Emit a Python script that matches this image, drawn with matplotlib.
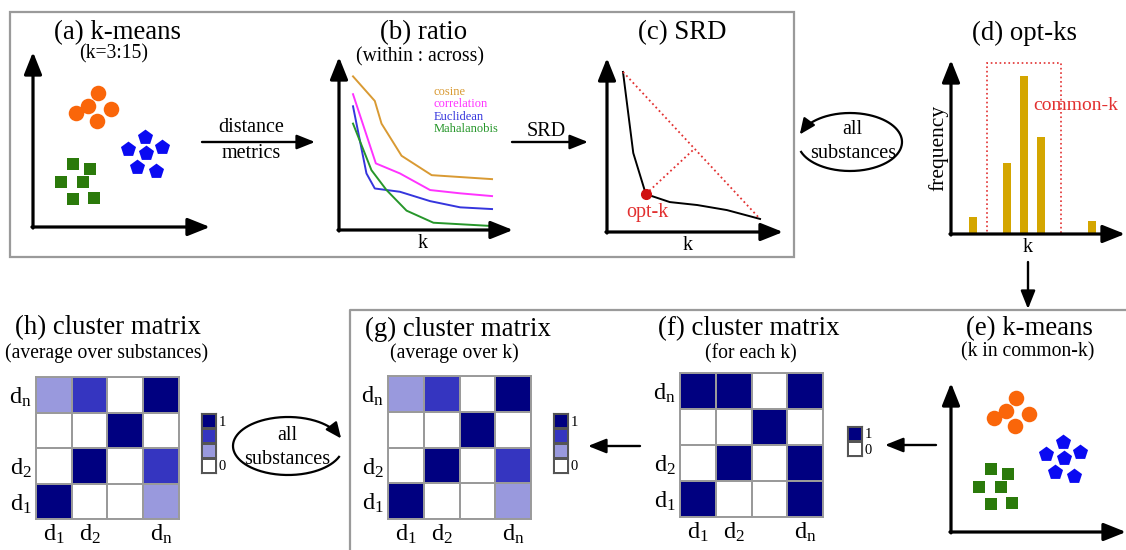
import numpy as np
import matplotlib
matplotlib.use("Agg")
import matplotlib.pyplot as plt
from matplotlib.colors import ListedColormap
from matplotlib.patches import Rectangle

plt.rcParams["font.family"] = ["Liberation Serif", "DejaVu Serif"]
plt.rcParams["mathtext.fontset"] = "custom"
plt.rcParams["mathtext.rm"] = "Liberation Serif"
plt.rcParams["mathtext.it"] = "Liberation Serif:italic"

# ---------------- data ----------------
# (a)/(e) toy k-means clusters (feature space, offsets from origin)
orange_x = [65, 55, 43, 78, 64]
orange_y = [134, 121, 114, 118, 106]
blue_x = [112, 95, 129, 113, 104, 123]
blue_y = [90, 78, 80, 74, 60, 56]
green_x = [40, 57, 28, 50, 40, 61]
green_y = [63, 58, 45, 45, 28, 29]

# (b) ratio (within : across) vs k for four distance metrics
metric_names = ["cosine", "correlation", "Euclidean", "Mahalanobis"]
metric_colors = ["#D99A33", "#FF33FF", "#3535DD", "#26962A"]
cosine_k = [3, 4.88, 5.46, 7.19, 9.79, 15]
cosine_r = [0.888, 0.746, 0.615, 0.429, 0.317, 0.294]
corr_k = [3, 4.97, 7.05, 9.65, 12.25, 15]
corr_r = [0.785, 0.385, 0.327, 0.231, 0.212, 0.196]
eucl_k = [3, 4.16, 4.88, 7.05, 9.65, 12.25, 15]
eucl_r = [0.715, 0.327, 0.240, 0.221, 0.167, 0.131, 0.121]
maha_k = [3, 4.59, 5.89, 7.62, 9.94, 15]
maha_r = [0.615, 0.346, 0.231, 0.112, 0.042, 0.023]

# (c) SRD curve
srd_k = [3, 3.9, 5.0, 7.1, 9.5, 12.1, 15]
srd_v = [0.92, 0.454, 0.218, 0.172, 0.155, 0.126, 0.075]
opt_k_index = 2

# (d) histogram of optimal k
hist_k = [4, 6, 7, 8, 11]
hist_freq = [2.1, 9.0, 20.0, 12.3, 1.6]
common_k_span = [4.8, 9.2]

# (f)-(h) cluster matrices
matrix_f = [[1, 1, 0, 1],
            [0, 0, 1, 0],
            [0, 1, 0, 1],
            [1, 0, 0, 1]]
matrix_g = [[1/3, 2/3, 0, 1],
            [0, 0, 1, 0],
            [0, 1, 0, 2/3],
            [1, 0, 0, 1/3]]
matrix_h = [[1/3, 2/3, 0, 1],
            [0, 0, 1, 0],
            [0, 1, 0, 2/3],
            [1, 0, 0, 1/3]]
row_labels = [r"d$_\mathrm{n}$", "", r"d$_2$", r"d$_1$"]
col_labels = [r"d$_1$", r"d$_2$", "", r"d$_\mathrm{n}$"]
levels4 = [1, 2/3, 1/3, 0]
levels2 = [1, 0]
mat_colors = ["#FFFFFF", "#9999DD", "#3535C0", "#000080"]

# ---------------- layout ----------------
W, H = 1126, 550
fig = plt.figure(figsize=(W / 100, H / 100), dpi=100)
bg = fig.add_axes([0, 0, 1, 1])
bg.set_xlim(0, W)
bg.set_ylim(H, 0)
bg.axis("off")

BOXC = "#9a9a9a"
RED = "#E23030"
cmap = ListedColormap(mat_colors)


def px_axes(x0, y0, x1, y1):
    ax = fig.add_axes([x0 / W, 1 - y1 / H, (x1 - x0) / W, (y1 - y0) / H])
    ax.axis("off")
    ax.patch.set_alpha(0)
    return ax


AX_ARROW = dict(arrowstyle="-|>,head_length=0.5,head_width=0.2", lw=2.3,
                color="k", mutation_scale=27, shrinkA=0, shrinkB=0)
FLOW_ARROW = dict(arrowstyle="-|>,head_length=0.5,head_width=0.2", lw=1.7,
                  color="k", mutation_scale=22, shrinkA=0, shrinkB=0)


def axis_arrows(ax):
    ax.annotate("", xy=(1, 0), xytext=(-0.006, 0), xycoords="axes fraction",
                arrowprops=AX_ARROW, annotation_clip=False)
    ax.annotate("", xy=(0, 1), xytext=(0, -0.006), xycoords="axes fraction",
                arrowprops=AX_ARROW, annotation_clip=False)


def flow(x0, y0, x1, y1):
    bg.annotate("", xy=(x1, y1), xytext=(x0, y0), arrowprops=FLOW_ARROW)


def txt(x, y, s, size, **kw):
    kw.setdefault("ha", "center")
    kw.setdefault("va", "center")
    bg.text(x, y, s, fontsize=size, **kw)


def ellipse_arrow(cx, cy, a, b, t0, t1):
    t = np.radians(np.linspace(t0, t1, 300))
    x = cx + a * np.cos(t)
    y = cy - b * np.sin(t)
    bg.plot(x[:-10], y[:-10], color="k", lw=1.6)
    bg.annotate("", xy=(x[-1], y[-1]), xytext=(x[-14], y[-14]),
                arrowprops=dict(arrowstyle="-|>,head_length=0.5,head_width=0.22",
                                color="k", lw=1.6, mutation_scale=19,
                                shrinkA=0, shrinkB=0))


# frames
bg.add_patch(Rectangle((10, 12), 784, 245, fill=False, ec=BOXC, lw=1.6))
bg.plot([350, 350, 1130], [555, 310, 310], color=BOXC, lw=1.6, clip_on=False)

TS = 19.3   # title size
SS = 14.1   # subtitle size
LS = 14.5   # label size


def clusters(ax):
    ax.scatter(orange_x, orange_y, s=125, marker="o", color="#FA660A", lw=0, clip_on=False)
    ax.scatter(blue_x, blue_y, s=130, marker="p", color="#0A0AF2", lw=0, clip_on=False)
    ax.scatter(green_x, green_y, s=82, marker="s", color="#2B7A0B", lw=0, clip_on=False)


# (a) k-means
ax_a = px_axes(33, 52, 210, 227)
ax_a.set_xlim(0, 177)
ax_a.set_ylim(0, 175)
axis_arrows(ax_a)
clusters(ax_a)
txt(118, 33, "(a) k-means", TS)
txt(114, 54, "(k=3:15)", SS)
flow(202, 142, 315, 142)
txt(251, 128, "distance", LS)
txt(251, 153, "metrics", LS)

# (b) ratio
ax_b = px_axes(339, 57, 513, 230)
ax_b.set_xlim(1.79, 16.81)
ax_b.set_ylim(0, 1)
axis_arrows(ax_b)
for kk, rr, c in zip([cosine_k, corr_k, eucl_k, maha_k],
                     [cosine_r, corr_r, eucl_r, maha_r], metric_colors):
    ax_b.plot(kk, rr, color=c, lw=1.4, clip_on=False)
for i, (name, c) in enumerate(zip(metric_names, metric_colors)):
    txt(434, 92 + 12.4 * i, name, 9, ha="left", color=c)
txt(424, 33, "(b) ratio", TS)
txt(420, 57, "(within : across)", SS)
txt(423, 244, "k", LS)
flow(512, 142, 588, 142)
txt(546, 131, "SRD", LS)

# (c) SRD
ax_c = px_axes(607, 58, 783, 232)
ax_c.set_xlim(1.60, 17.01)
ax_c.set_ylim(0, 1)
axis_arrows(ax_c)
ax_c.plot(srd_k, srd_v, color="k", lw=1.4, clip_on=False)
p0 = ax_c.transData.transform((srd_k[0], srd_v[0]))
p1 = ax_c.transData.transform((srd_k[-1], srd_v[-1]))
po = ax_c.transData.transform((srd_k[opt_k_index], srd_v[opt_k_index]))
d = (p1 - p0) / np.linalg.norm(p1 - p0)
foot = p0 + np.dot(po - p0, d) * d
foot_d = ax_c.transData.inverted().transform(foot)
ax_c.plot([srd_k[0], srd_k[-1]], [srd_v[0], srd_v[-1]], ls=":", color=RED, lw=1.3, clip_on=False)
ax_c.plot([srd_k[opt_k_index], foot_d[0]], [srd_v[opt_k_index], foot_d[1]],
          ls=":", color=RED, lw=1.3, clip_on=False)
ax_c.plot([srd_k[opt_k_index]], [srd_v[opt_k_index]], "o", color="#D01010", ms=7, clip_on=False)
txt(682, 33, "(c) SRD", TS)
txt(647, 213, "opt-k", LS, color=RED)
txt(688, 246, "k", LS)

ellipse_arrow(850, 142, 52, 29, 200, 525)
txt(852, 130, "all", LS)
txt(853, 154, "substances", LS)

# (d) opt-ks
ax_d = px_axes(951, 60, 1125, 234)
ax_d.set_xlim(2.71, 12.94)
ax_d.set_ylim(0, 22)
ax_d.bar(hist_k, hist_freq, width=0.47, color="#D4A600", zorder=2)
ax_d.add_patch(Rectangle((common_k_span[0], 0), common_k_span[1] - common_k_span[0], 21.6,
                         fill=False, ec=RED, ls=":", lw=1.2, zorder=3))
axis_arrows(ax_d)
txt(1024, 33, "(d) opt-ks", TS)
txt(1033, 106, "common-k", 14, ha="left", color=RED)
txt(938, 148, "frequency", 15.5, rotation=90)
txt(1028, 247, "k", LS)
flow(1028, 262, 1028, 309)

# (e) k-means in common-k
ax_e = px_axes(951, 383, 1126, 532)
ax_e.set_xlim(0, 175)
ax_e.set_ylim(0, 149)
axis_arrows(ax_e)
clusters(ax_e)
txt(1029, 329, "(e) k-means", TS)
txt(1028, 352, "(k in common-k)", SS)
flow(936, 445, 885, 445)


def matrix(x0, y0, x1, y1, M, cb_x, cb_y, levels):
    ax = px_axes(x0, y0, x1, y1)
    ax.axis("on")
    ax.pcolormesh(np.arange(5), np.arange(5), np.array(M), cmap=cmap, vmin=0, vmax=1,
                  edgecolors="#9a9a9a", linewidth=1.4)
    ax.set_xlim(0, 4)
    ax.set_ylim(4, 0)
    for s in ax.spines.values():
        s.set_color("#9a9a9a")
        s.set_linewidth(1.4)
    ax.set_xticks([i + 0.5 for i in range(4) if col_labels[i]],
                  [l for l in col_labels if l])
    ax.set_yticks([i + 0.5 for i in range(4) if row_labels[i]],
                  [l for l in row_labels if l])
    ax.tick_params(length=0, labelsize=17.5, pad=3)
    # small colour key
    n = len(levels)
    cb = px_axes(cb_x, cb_y, cb_x + 15, cb_y + 15 * n)
    cb.axis("on")
    cb.pcolormesh(np.arange(2), np.arange(n + 1), np.array(levels).reshape(n, 1),
                  cmap=cmap, vmin=0, vmax=1, edgecolors="#555555", linewidth=1.0)
    cb.set_xlim(0, 1)
    cb.set_ylim(n, 0)
    for s in cb.spines.values():
        s.set_color("#555555")
    cb.set_xticks([])
    cb.yaxis.tick_right()
    cb.set_yticks([0.5, n - 0.5], ["1", "0"])
    cb.tick_params(length=0, labelsize=10.5, pad=2)
    return ax


# (f)
matrix(680, 373, 823, 517, matrix_f, 847, 426, levels2)
txt(749, 329, "(f) cluster matrix", TS)
txt(751, 354, "(for each k)", SS)
flow(640, 446, 588, 446)

# (g)
matrix(388, 376, 531, 519, matrix_g, 553, 413, levels4)
txt(458, 329, "(g) cluster matrix", TS)
txt(454, 353, "(average over k)", SS)

# (h)
matrix(36, 377, 179, 519, matrix_h, 201, 413, levels4)
txt(108, 328, "(h) cluster matrix", TS)
txt(107, 353, "(average over substances)", SS)

ellipse_arrow(288, 446, 55, 29, -22, -345)
txt(287, 435, "all", LS)
txt(287, 460, "substances", LS)

fig.savefig("out.png", dpi=100)
